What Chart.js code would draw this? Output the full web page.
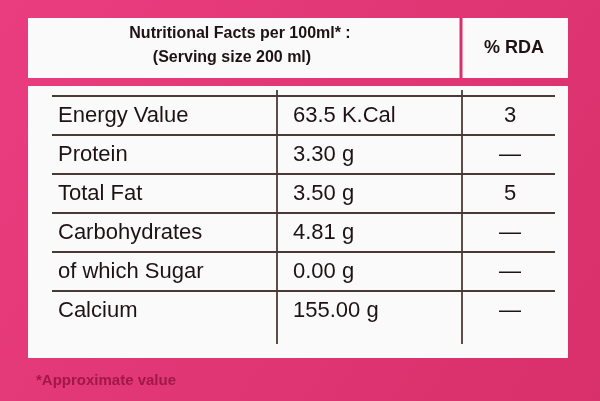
<!DOCTYPE html>
<html>
<head>
<meta charset="utf-8">
<script src="https://cdn.jsdelivr.net/npm/chart.js@4/dist/chart.umd.min.js"></script>
<style>
  html, body { margin: 0; padding: 0; background: #e03a78; }
  #wrap { width: 600px; height: 401px; position: relative; }
</style>
</head>
<body>
<div id="wrap"><canvas id="tabla"></canvas></div>
<script>
// Datos de la etiqueta
const nutrientes = ["Energy Value", "Protein", "Total Fat", "Carbohydrates", "of which Sugar", "Calcium"];
const cantidades = ["63.5 K.Cal", "3.30 g", "3.50 g", "4.81 g", "0.00 g", "155.00 g"];
const rda = ["3", "—", "5", "—", "—", "—"];
const encabezado = ["Nutritional Facts per 100ml* :", "(Serving size 200 ml)"];
const encabezadoRda = "% RDA";
const notaPie = "*Approximate value";

// Plugin que dibuja la tabla usando la escala y del gráfico
const tablaPlugin = {
  id: "tabla",
  beforeDraw(chart) {
    const c = chart.ctx;
    const g = c.createLinearGradient(0, 0, 600, 401);
    g.addColorStop(0, "#ea3d80");
    g.addColorStop(1, "#d8306a");
    c.save();
    c.fillStyle = g;
    c.fillRect(0, 0, chart.width, chart.height);
    c.fillStyle = "#fbfafa";
    c.fillRect(28, 18, 540, 60);
    c.fillRect(28, 86, 540, 272);
    c.strokeStyle = "#d8306a";
    c.lineWidth = 3;
    c.beginPath(); c.moveTo(461, 18); c.lineTo(461, 78); c.stroke();
    c.restore();
  },
  afterDraw(chart) {
    const c = chart.ctx;
    const y = chart.scales.y;
    const paso = y.getPixelForValue(1) - y.getPixelForValue(0);
    c.save();
    c.fillStyle = "#1e1214";
    c.textBaseline = "middle";
    // encabezado
    c.font = "bold 16px 'Liberation Sans', Arial";
    c.textAlign = "center";
    c.fillText(encabezado[0], 240, 34);
    c.fillText(encabezado[1], 232, 58);
    c.font = "bold 18px 'Liberation Sans', Arial";
    c.fillText(encabezadoRda, 514, 48);
    // filas
    c.strokeStyle = "#4a3a36";
    c.lineWidth = 1.8;
    nutrientes.forEach((n, i) => {
      const py = y.getPixelForValue(i);
      c.font = "22px 'Liberation Sans Narrow', 'Liberation Sans', Arial";
      c.textAlign = "left";
      c.fillText(n, 58, py);
      c.fillText(cantidades[i], 293, py);
      c.textAlign = "center";
      c.fillText(rda[i], 510, py);
      if (i < nutrientes.length - 1) {
        c.beginPath();
        c.moveTo(52, py + paso / 2);
        c.lineTo(555, py + paso / 2);
        c.stroke();
      }
    });
    const top = y.getPixelForValue(0) - paso / 2 - 6;
    const bot = y.getPixelForValue(nutrientes.length - 1) + paso / 2 + 14;
    c.beginPath(); c.moveTo(52, top + 6); c.lineTo(555, top + 6); c.stroke();
    c.beginPath(); c.moveTo(277, top); c.lineTo(277, bot); c.stroke();
    c.beginPath(); c.moveTo(462, top); c.lineTo(462, bot); c.stroke();
    // nota
    c.fillStyle = "#a01848";
    c.textAlign = "left";
    c.font = "bold 15px 'Liberation Sans', Arial";
    c.fillText(notaPie, 36, 381);
    c.restore();
  }
};

new Chart(document.getElementById("tabla"), {
  type: "bar",
  data: {
    labels: nutrientes,
    datasets: [{ data: nutrientes.map(() => 0), backgroundColor: "transparent" }]
  },
  options: {
    responsive: true,
    maintainAspectRatio: false,
    animation: false,
    indexAxis: "y",
    layout: { padding: { top: 96, bottom: 71, left: 0, right: 0 } },
    scales: {
      x: { display: false },
      y: { display: false, offset: true }
    },
    plugins: { legend: { display: false }, tooltip: { enabled: false } }
  },
  plugins: [tablaPlugin]
});
</script>
</body>
</html>
